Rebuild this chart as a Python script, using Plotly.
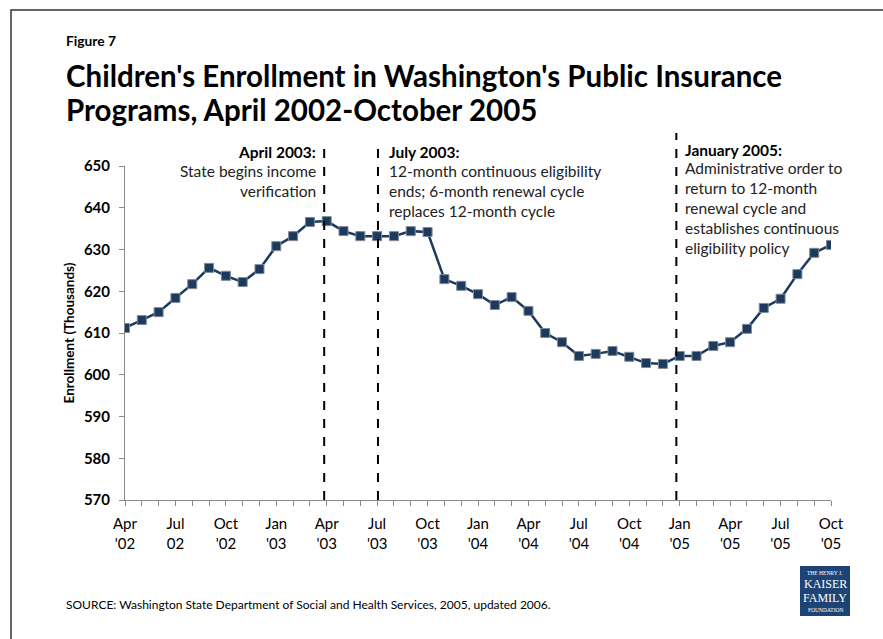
import plotly.graph_objects as go

months = list(range(43))
enrollment = [611.2, 613.1, 615.0, 618.4, 621.7, 625.6, 623.7, 622.2, 625.3, 630.8,
              633.2, 636.6, 636.8, 634.4, 633.2, 633.2, 633.2, 634.4, 634.2, 622.9,
              621.3, 619.3, 616.7, 618.6, 615.3, 610.0, 607.8, 604.5, 605.0, 605.7,
              604.3, 602.8, 602.6, 604.5, 604.5, 606.9, 607.8, 611.0, 616.0, 618.2,
              624.1, 629.2, 631.1]
tick_positions = list(range(0, 43, 3))
tick_labels = ["Apr<br>'02", "Jul<br>02", "Oct<br>'02", "Jan<br>'03", "Apr<br>'03",
               "Jul<br>'03", "Oct<br>'03", "Jan<br>'04", "Apr<br>'04", "Jul<br>'04",
               "Oct<br>'04", "Jan<br>'05", "Apr<br>'05", "Jul<br>'05", "Oct<br>'05"]
event_months = [12, 15, 33]

W, H = 883, 639
L, R, T, B = 125, 831, 166, 500

def px(x):
    return (x - L) / (R - L)

def py(y):
    return (B - y) / (B - T)

FONT = "Lato"
NAVY = "#1c3a5e"

fig = go.Figure()
fig.add_trace(go.Scatter(
    x=months, y=enrollment, mode="lines+markers",
    line=dict(color=NAVY, width=2.5),
    marker=dict(symbol="square", size=9, color=NAVY, line=dict(color="#7f8a96", width=1)),
    hoverinfo="skip", showlegend=False))

shapes = []
tops = [145, 145, 133]
offsets = [-0.15, 0.05, -0.2]
for m, t, o in zip(event_months, tops, offsets):
    shapes.append(dict(type="line", xref="x", yref="paper", x0=m + o, x1=m + o,
                       y0=0, y1=py(t), line=dict(color="black", width=2, dash="dash")))
# page border
shapes.append(dict(type="rect", xref="paper", yref="paper", x0=px(11), x1=px(900),
                   y0=py(10), y1=py(700), line=dict(color="#333", width=1.5),
                   fillcolor="rgba(0,0,0,0)", layer="below"))
# logo box
shapes.append(dict(type="rect", xref="paper", yref="paper", x0=px(800), x1=px(850),
                   y0=py(566), y1=py(616), line=dict(width=0), fillcolor="#1e4476"))

ann = []
def text(x, y, s, size, bold=False, xanchor="left", color="black", family=FONT, yanchor="middle"):
    ann.append(dict(xref="paper", yref="paper", x=px(x), y=py(y), text=("<b>%s</b>" % s) if bold else s,
                    showarrow=False, xanchor=xanchor, yanchor=yanchor,
                    font=dict(size=size, color=color, family=family), align=xanchor))

text(64, 40, "Figure 7", 13.8, bold=True)
text(64, 75, "Children's Enrollment in Washington's Public Insurance", 29.5, bold=True)
text(64, 109, "Programs, April 2002-October 2005", 29.5, bold=True)

AS = 15.5
text(318, 152, "April 2003:", AS, bold=True, xanchor="right")
text(318, 171, "State begins income", AS, xanchor="right", color="#222")
text(318, 191, "verification", AS, xanchor="right", color="#222")

text(387, 152, "July 2003:", AS, bold=True)
for i, s in enumerate(["12-month continuous eligibility", "ends; 6-month renewal cycle",
                       "replaces 12-month cycle"]):
    text(387, 171 + 20 * i, s, AS, color="#222")

text(683, 150, "January 2005:", AS, bold=True)
for i, s in enumerate(["Administrative order to", "return to 12-month", "renewal cycle and",
                       "establishes continuous", "eligibility policy"]):
    text(683, 168 + 20 * i, s, AS, color="#222")

text(64, 604, "SOURCE: Washington State Department of Social and Health Services, 2005, updated 2006.", 12)

# logo text
text(825, 573, "THE HENRY J.", 5.5, xanchor="center", color="white", family="Liberation Serif")
text(825, 584, "KAISER", 12, xanchor="center", color="white", family="Liberation Serif")
text(825, 598, "FAMILY", 12, xanchor="center", color="white", family="Liberation Serif")
text(825, 610, "FOUNDATION", 5.5, xanchor="center", color="white", family="Liberation Serif")

fig.update_layout(
    width=W, height=H, autosize=False,
    margin=dict(l=L, r=W - R, t=T, b=H - B),
    paper_bgcolor="white", plot_bgcolor="white",
    font=dict(family=FONT, color="black"),
    shapes=shapes, annotations=ann,
    xaxis=dict(range=[0, 42], tickvals=tick_positions, ticktext=tick_labels,
               showgrid=False, zeroline=False, showline=True, linecolor="#888", linewidth=1,
               ticks="outside", ticklen=5, tickcolor="#888", ticklabelstandoff=5,
               minor=dict(dtick=1, tick0=0, ticks="outside", ticklen=5, tickcolor="#888"),
               tickfont=dict(size=15, family=FONT, color="black"), tickangle=0),
    yaxis=dict(range=[570, 650], dtick=10, showgrid=False, zeroline=False,
               showline=True, linecolor="#888", linewidth=1, ticks="outside", ticklen=5,
               tickcolor="#888", tickfont=dict(size=15, family=FONT, color="black"),
               ticklabelstandoff=6,
               title=dict(text="<b>Enrollment (Thousands)</b>", font=dict(size=13.5, family=FONT),
                          standoff=6)),
)
fig.update_xaxes(tickprefix="<b>", ticksuffix="</b>")
fig.update_yaxes(tickprefix="<b>", ticksuffix="</b>")

fig.write_html("out.html", config={"displayModeBar": False},
               post_script="document.body.style.margin='0';document.body.style.overflow='hidden';")
